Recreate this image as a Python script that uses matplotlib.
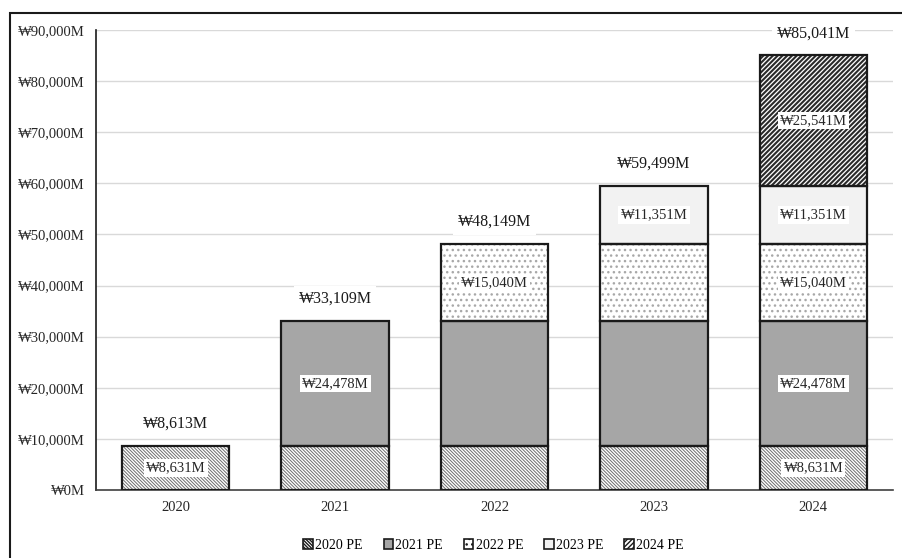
import matplotlib
matplotlib.use("Agg")
import matplotlib.pyplot as plt
from matplotlib.patches import Patch, Rectangle
import numpy as np

plt.rcParams["font.family"] = ["Liberation Serif", "DejaVu Serif"]
plt.rcParams["hatch.linewidth"] = 1.0

# data
years = ["2020", "2021", "2022", "2023", "2024"]
series = ["2020 PE", "2021 PE", "2022 PE", "2023 PE", "2024 PE"]
values = [
    [8631, 8631, 8631, 8631, 8631],
    [0, 24478, 24478, 24478, 24478],
    [0, 0, 15040, 15040, 15040],
    [0, 0, 0, 11351, 11351],
    [0, 0, 0, 0, 25541],
]
totals = [8631, 33109, 48149, 59500, 85041]
total_labels = ["₩8,613M", "₩33,109M", "₩48,149M", "₩59,499M", "₩85,041M"]

fills = ["white", "#a6a6a6", "white", "#f2f2f2", "white"]
hatch_colors = ["#6e6e6e", "#a6a6a6", "#a8a8a8", "#f2f2f2", "#2a2a2a"]
hatches = ["\\" * 10, None, "...", None, "/" * 7]
hatch_lw = [0.7, 1.0, 1.0, 1.0, 1.5]


def fmt(v):
    return f"₩{v:,.0f}M"


fig = plt.figure(figsize=(9.03, 5.58), dpi=100)
ax = fig.add_axes([0.1063, 0.1219, 0.8827, 0.8243])

x = np.arange(len(years))
width = 0.675
bottom = np.zeros(len(years))
for i, name in enumerate(series):
    vals = np.array(values[i], dtype=float)
    mask = vals > 0
    # hatch layer, then a plain outline on top
    bars = ax.bar(x[mask], vals[mask], width, bottom=bottom[mask], color=fills[i],
                  edgecolor=hatch_colors[i], hatch=hatches[i], linewidth=0, zorder=2)
    for b in bars:
        if hasattr(b, "set_hatch_linewidth"):
            b.set_hatch_linewidth(hatch_lw[i])
    ax.bar(x[mask], vals[mask], width, bottom=bottom[mask], fill=False,
           edgecolor="#1a1a1a", linewidth=1.6, zorder=3)
    for j in np.where(mask)[0]:
        if j == i or j == len(years) - 1:
            ax.text(x[j], bottom[j] + vals[j] / 2, fmt(vals[j]), ha="center", va="center",
                    fontsize=10.5, color="#262626", zorder=4,
                    bbox=dict(boxstyle="square,pad=0.15", fc="white", ec="none"))
    bottom += vals

for j, lab in enumerate(total_labels):
    ax.annotate(lab, (x[j], totals[j]), xytext=(0, 10), textcoords="offset points",
                ha="center", va="bottom", fontsize=11.5, color="#1a1a1a", zorder=4,
                bbox=dict(boxstyle="square,pad=0.3", fc="white", ec="none"))

ax.set_xlim(-0.5, 4.5)
ax.set_ylim(0, 90000)
ax.set_yticks(np.arange(0, 90001, 10000))
ax.set_yticklabels([fmt(v) for v in np.arange(0, 90001, 10000)], fontsize=10.5, color="#262626")
ax.set_xticks(x)
ax.set_xticklabels(years, fontsize=10.5, color="#262626")
ax.tick_params(length=0, pad=8)
ax.yaxis.grid(True, color="#d9d9d9", linewidth=1.0, zorder=0)
ax.set_axisbelow(True)
for s in ["top", "right"]:
    ax.spines[s].set_visible(False)
ax.spines["left"].set_color("#1a1a1a")
ax.spines["left"].set_linewidth(1.2)
ax.spines["bottom"].set_color("#404040")
ax.spines["bottom"].set_linewidth(1.2)

handles = [Patch(facecolor=fills[i], edgecolor="#1a1a1a", hatch=hatches[i], linewidth=1.2)
           for i in range(len(series))]
fig.legend(handles, series, loc="lower center", bbox_to_anchor=(0.5465, -0.012), ncol=5,
           frameon=False, fontsize=10, handlelength=0.7, handleheight=0.7,
           handletextpad=0.15, columnspacing=1.5)

# outer frame, cut off at the right and bottom like the source image
fig.patches.append(Rectangle((10 / 903, -0.1), 1.1, 1 - 13 / 558 + 0.1,
                             transform=fig.transFigure, fill=False,
                             edgecolor="#1a1a1a", linewidth=1.5))

fig.savefig("out.png", dpi=100)
